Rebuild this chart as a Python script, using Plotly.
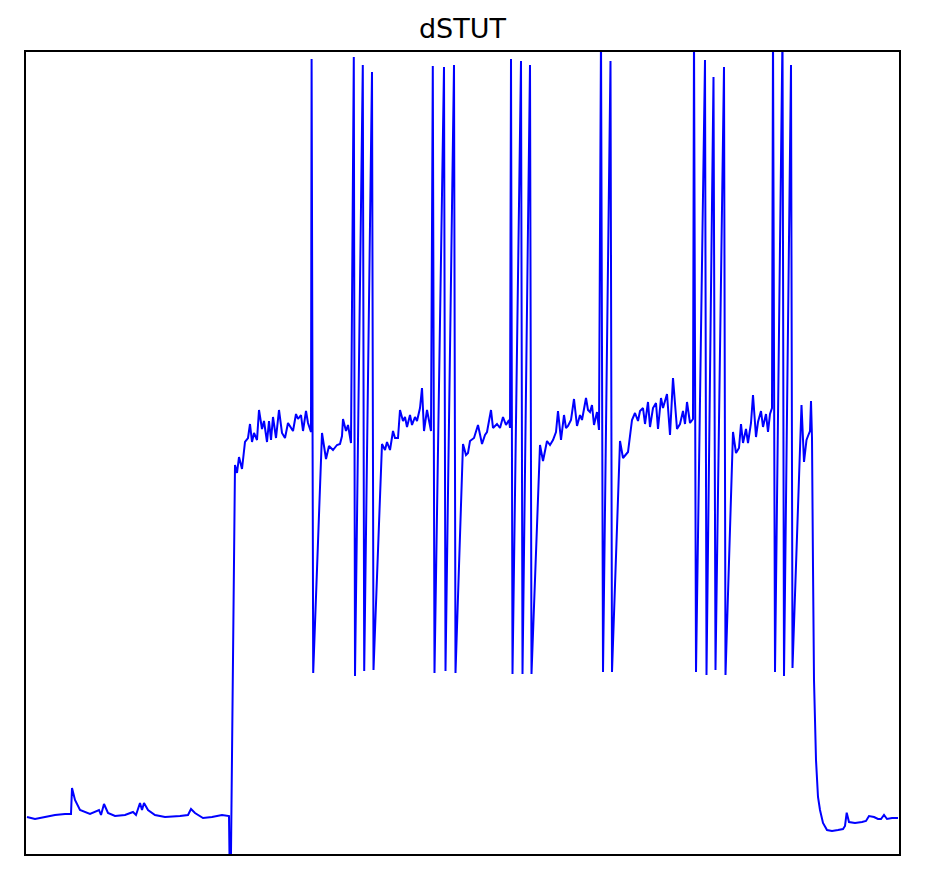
import plotly.graph_objects as go

# Time (ms) and membrane potential (mV)
t_ms = [
    1, 9, 19, 29, 39, 45, 46, 49, 54, 64, 73, 75, 78, 82, 89, 99, 107, 110, 114, 116,
    118, 122, 129, 139, 154, 162, 165, 169, 177, 186, 196, 203, 204.3,
    209, 211, 213, 216, 219, 222, 224, 226, 228, 231, 233, 236, 238, 241, 243, 245,
    247, 250, 253, 256, 259, 262, 267, 270, 272, 275, 277, 280, 282, 285, 285.6, 287.2,
    296, 300, 303, 307, 311, 314, 316, 317, 320, 322, 325, 327.8, 329, 336.8, 338.2,
    346, 347.5,
    356, 359, 361, 364, 367, 369, 372, 374, 377, 379, 381, 384, 386, 389, 391, 394,
    396, 398, 401, 403, 405, 406.8, 408.5, 418, 419.5, 428, 429.5,
    437, 440, 442, 444, 448, 452, 456, 459, 461, 465, 467, 471, 474, 477, 480, 483,
    484, 485, 486.5, 495, 496.5, 504, 505.5,
    514, 517, 521, 524, 527, 530, 532, 535, 538, 540, 542, 545, 548, 551, 554, 556,
    560, 562, 564, 566, 568, 571, 573, 575, 577, 584.5, 586,
    594, 597, 602, 606, 609, 612, 614, 617, 619, 622, 624, 627, 630, 632, 635, 637,
    641, 644, 647, 651, 654, 657, 659, 661, 664, 667, 668, 670, 679, 680.5, 687.5,
    689.5, 698, 699.5,
    707, 710, 713, 715, 717, 720, 722, 725, 727, 730, 732, 735, 737, 740, 742, 744,
    746, 747, 749, 756.5, 758, 765, 766.5,
    775.5, 778, 780.5, 782, 784, 785, 786, 787, 788, 790, 792, 794, 797, 801, 806,
    812, 817, 819, 820.7, 823, 829, 836, 840, 843, 848, 852, 855, 858, 861, 866, 872,
]

v_mV = [
    -84.45, -84.75, -84.45, -84.15, -84.0, -84.0, -80.1, -81.9, -83.4, -84.0, -83.4,
    -84.15, -82.5, -83.85, -84.3, -84.15, -83.7, -84.15, -82.35, -83.4, -82.35, -83.4,
    -84.15, -84.45, -84.3, -84.15, -83.25, -83.85, -84.6, -84.45, -84.15, -84.3, -100.0,
    -31.65, -32.85, -30.45, -32.25, -28.2, -27.6, -25.5, -28.2, -26.85, -27.9, -23.4,
    -26.25, -25.05, -28.2, -25.05, -27.9, -24.45, -27.6, -23.4, -26.85, -27.6, -25.35,
    -26.55, -24.0, -24.75, -24.15, -26.55, -23.55, -25.35, -26.7, 29.25, -62.85,
    -26.85, -30.75, -28.8, -29.4, -28.65, -28.5, -27.3, -24.75, -26.55, -25.65, -28.35,
    29.55, -63.3, 28.35, -62.55, 27.3, -62.4,
    -28.5, -29.4, -28.2, -29.4, -26.55, -27.6, -27.6, -23.4, -25.05, -24.45, -25.95,
    -24.15, -25.65, -24.45, -25.05, -23.1, -20.1, -26.55, -23.4, -25.05, -26.55,
    28.2, -62.85, 28.05, -62.55, 28.35, -62.85,
    -28.5, -30.15, -29.85, -28.05, -27.6, -25.65, -28.5, -27.15, -26.7, -23.4, -26.1,
    -25.5, -26.1, -24.45, -25.65, -24.9, -26.1, 29.25, -63.0, 28.95, -63.0, 28.35, -63.0,
    -28.65, -31.05, -28.05, -28.65, -27.9, -26.7, -23.55, -27.9, -24.15, -26.1, -25.8,
    -24.9, -21.75, -25.8, -24.15, -24.9, -21.6, -23.4, -23.7, -22.65, -25.65, -23.7,
    -26.4, 33.0, -62.7, 28.95, -62.7,
    -28.05, -30.6, -29.7, -24.9, -23.85, -25.05, -23.55, -23.1, -25.5, -22.2, -25.95,
    -23.1, -22.35, -26.25, -21.6, -23.1, -21.0, -27.15, -18.6, -26.25, -25.5, -23.55,
    -25.5, -22.2, -25.35, -24.75, 33.0, -62.7, 29.1, -63.15, 26.55, -62.4, 28.05, -63.15,
    -26.7, -29.85, -29.1, -25.5, -28.35, -26.25, -28.35, -25.35, -21.15, -27.45, -25.2,
    -23.55, -25.95, -24.0, -26.7, -24.0, -23.1, 33.0, -62.7, 33.0, -63.3, 28.35, -62.1,
    -22.65, -31.2, -27.9, -27.3, -26.55, -22.05, -27.6, -46.95, -63.9, -75.9, -81.45,
    -83.4, -85.35, -86.4, -86.55, -86.4, -86.25, -85.8, -83.8, -85.2, -85.35, -85.2,
    -85.05, -84.3, -84.45, -84.75, -84.75, -84.15, -84.75, -84.6, -84.6,
]

title_text = "dSTUT"

fig = go.Figure()
fig.add_trace(go.Scatter(
    x=t_ms, y=v_mV, mode="lines",
    line=dict(color="rgb(0,0,255)", width=2),
    showlegend=False, hoverinfo="skip",
))

fig.update_layout(
    width=931, height=879,
    margin=dict(l=26, r=32, t=52, b=25),
    paper_bgcolor="white", plot_bgcolor="white",
    title=dict(text=title_text, x=(26 + 899) / 2 / 931, xanchor="center",
               y=1 - 29 / 879, yanchor="middle", yref="container",
               font=dict(family="DejaVu Sans", size=27, color="black")),
)
fig.update_xaxes(range=[0, 873], showgrid=False, zeroline=False, showticklabels=False,
                 ticks="", showline=True, linecolor="black", linewidth=1.6, mirror=True)
fig.update_yaxes(range=[-90, 30.3], showgrid=False, zeroline=False, showticklabels=False,
                 ticks="", showline=True, linecolor="black", linewidth=1.6, mirror=True)

fig.write_html("out.html")
